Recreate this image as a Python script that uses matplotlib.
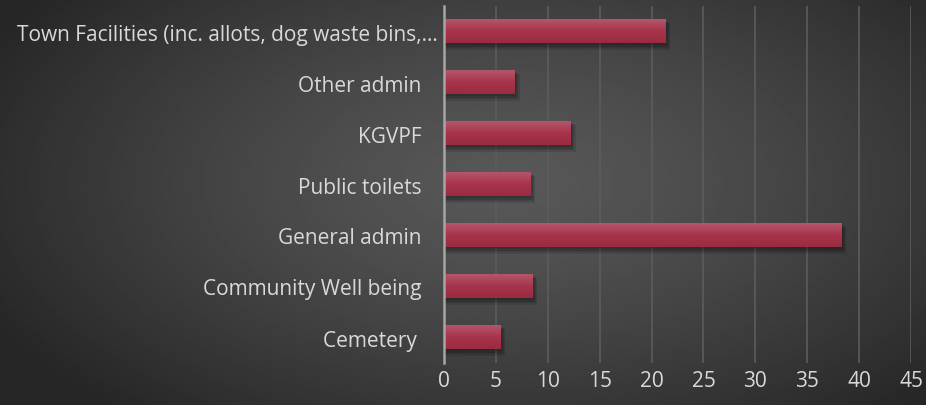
import numpy as np
import matplotlib.pyplot as plt
from matplotlib.colors import LinearSegmentedColormap
import matplotlib.transforms as mtransforms

categories = ["Cemetery ", "Community Well being", "General admin", "Public toilets",
              "KGVPF", "Other admin", "Town Facilities (inc. allots, dog waste bins,\u2026"]
values = [5.4, 8.5, 38.3, 8.3, 12.2, 6.8, 21.3]
xticks = [0, 5, 10, 15, 20, 25, 30, 35, 40, 45]

plt.rcParams['font.family'] = ['Open Sans', 'DejaVu Sans']

fig = plt.figure(figsize=(9.26, 4.06), dpi=100)

# background radial gradient
bg = fig.add_axes([0, 0, 1, 1])
gx, gy = np.meshgrid(np.linspace(0, 1, 400), np.linspace(0, 1, 200))
d = np.sqrt(((gx - 0.55) / 0.75) ** 2 + ((gy - 0.45) / 0.9) ** 2)
shade = 0x58 - (0x58 - 0x26) * np.clip(d / 0.85, 0, 1) ** 1.3
bg.imshow(shade / 255.0, cmap='gray', vmin=0, vmax=1, extent=(0, 1, 0, 1),
          aspect='auto', origin='upper')
bg.axis('off')

ax = fig.add_axes([444 / 926, 1 - 364 / 406, (911 - 444) / 926, (364 - 7) / 406])
ax.patch.set_alpha(0)

h = 0.47
y = np.arange(len(categories))
barcmap = LinearSegmentedColormap.from_list('bar', ['#9a2b41', '#a7344b', '#b4566a'])
grad = np.linspace(0, 1, 50).reshape(-1, 1)

for i, v in enumerate(values):
    # soft shadow
    for k in range(4):
        off = 0.12 + k * 0.12
        ax.barh(i - 0.03 - k * 0.02, v + off, height=h + 0.02 * k, left=0,
                color='black', alpha=0.11, linewidth=0, zorder=2)
    ax.imshow(grad, cmap=barcmap, extent=(0, v, i - h / 2, i + h / 2),
              aspect='auto', origin='lower', zorder=3)

ax.set_xlim(0, 45)
ax.set_ylim(-0.5, len(categories) - 0.5)
ax.set_aspect('auto')

ax.set_xticks(xticks)
ax.set_yticks(y)
ax.set_yticklabels(categories)
ax.xaxis.grid(True, color='#5c5c5c', linewidth=1.2, zorder=0)
ax.set_axisbelow(True)
for s in ['top', 'right', 'bottom']:
    ax.spines[s].set_visible(False)
ax.spines['left'].set_color('#a6a6a6')
ax.spines['left'].set_linewidth(1.8)
ax.spines['left'].set_zorder(5)
ax.tick_params(axis='both', length=0, colors='#d9d9d9', labelsize=15)
ax.tick_params(axis='x', pad=5)
ax.tick_params(axis='y', pad=16)

# long truncated label sits slightly closer to the axis
lbl = ax.get_yticklabels()[-1]
lbl.set_transform(lbl.get_transform() + mtransforms.ScaledTranslation(16 / 100, 0, fig.dpi_scale_trans))

fig.savefig("out.png", dpi=100)
